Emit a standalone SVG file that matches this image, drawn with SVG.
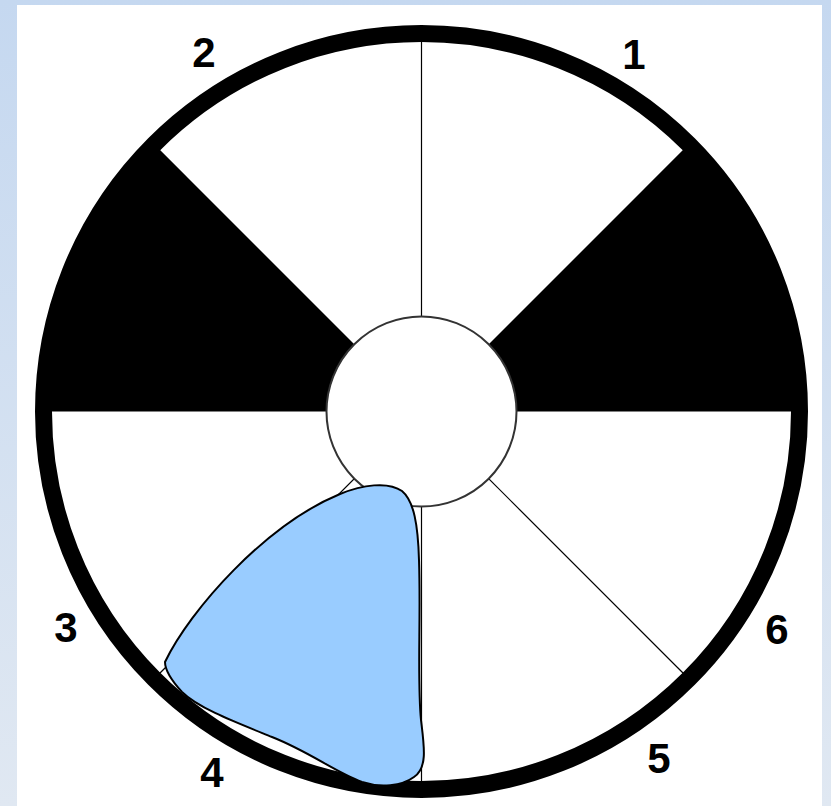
<svg xmlns="http://www.w3.org/2000/svg" width="831" height="806" viewBox="0 0 831 806">
<defs>
<linearGradient id="bg" x1="0" y1="0" x2="0" y2="1">
<stop offset="0" stop-color="#c5d8f0"/>
<stop offset="1" stop-color="#e0e8f2"/>
</linearGradient>
<style>
.thin{stroke:#000;stroke-width:1.2;fill:none}
.lbl{font-family:"Liberation Sans",Arial,sans-serif;font-weight:bold;font-size:42px;fill:#000;text-anchor:middle}
</style>
</defs>
<rect x="0" y="0" width="831" height="806" fill="url(#bg)"/>
<rect x="17" y="5" width="805" height="801" fill="#fff"/>
<g id="sectors">
<path d="M421.5,411.5 L41.5,411.5 A380,380 0 0,1 152.8,142.8 Z" fill="#000"/>
<path d="M421.5,411.5 L801.5,411.5 A380,380 0 0,0 690.2,142.8 Z" fill="#000"/>
</g>
<g id="connectors">
<line class="thin" x1="421.5" y1="40" x2="421.5" y2="785"/>
<line class="thin" x1="421.5" y1="411.5" x2="686" y2="676"/>
<line class="thin" x1="421.5" y1="411.5" x2="157" y2="676"/>
</g>
<g id="ring">
<circle cx="421.5" cy="411.5" r="378" fill="none" stroke="#000" stroke-width="17"/>
</g>
<g id="hub">
<circle cx="421.5" cy="411.5" r="95" fill="#fff" stroke="#333" stroke-width="2"/>
</g>
<g id="blob">
<path d="M165,662 C190,610 265,525 340,494 C362,485 388,481 402,491 C414,501 418,525 419,560 C421,620 417,680 421,720 C424,745 428,768 414,777 C402,786 380,788 362,782 C335,772 310,752 272,737 C235,722 198,708 182,692 C172,681 165,670 165,662 Z" fill="#99ccff" stroke="#000" stroke-width="2"/>
</g>
<g id="labels">
<text class="lbl" x="204" y="67">2</text>
<text class="lbl" x="634" y="69">1</text>
<text class="lbl" x="66" y="642">3</text>
<text class="lbl" x="777" y="644">6</text>
<text class="lbl" x="212" y="787">4</text>
<text class="lbl" x="659" y="773">5</text>
</g>
</svg>
